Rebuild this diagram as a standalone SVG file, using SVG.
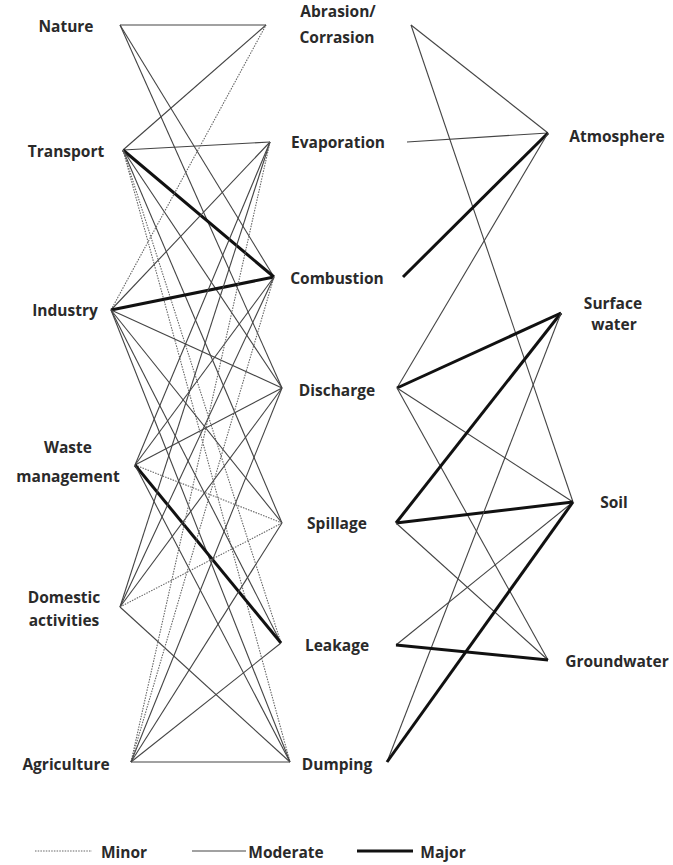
<svg xmlns="http://www.w3.org/2000/svg" width="673" height="865" viewBox="0 0 673 865">
<style>
text{font-family:"Open Sans","DejaVu Sans",sans-serif;font-size:15.5px;font-weight:700;fill:#2a2a2a;text-anchor:middle}
.mod{stroke:#444;stroke-width:1.1;fill:none}
.min{stroke:#666;stroke-width:1.1;stroke-dasharray:1.5 1.2;fill:none}
.maj{stroke:#111;stroke-width:3;fill:none}
</style>
<rect width="673" height="865" fill="#fff"/>
<g id="connectors">
<line class="mod" x1="120" y1="25" x2="266" y2="25"/>
<line class="mod" x1="120" y1="25" x2="274" y2="277"/>
<line class="mod" x1="120" y1="25" x2="282" y2="388"/>
<line class="mod" x1="123" y1="150" x2="266" y2="25"/>
<line class="mod" x1="123" y1="150" x2="270" y2="142"/>
<line class="maj" x1="123" y1="150" x2="274" y2="277"/>
<line class="mod" x1="123" y1="150" x2="282" y2="388"/>
<line class="mod" x1="123" y1="150" x2="282" y2="523"/>
<line class="min" x1="123" y1="150" x2="281" y2="643"/>
<line class="min" x1="123" y1="150" x2="290" y2="762"/>
<line class="min" x1="111" y1="310" x2="266" y2="25"/>
<line class="mod" x1="111" y1="310" x2="270" y2="142"/>
<line class="maj" x1="111" y1="310" x2="274" y2="277"/>
<line class="mod" x1="111" y1="310" x2="282" y2="388"/>
<line class="mod" x1="111" y1="310" x2="282" y2="523"/>
<line class="mod" x1="111" y1="310" x2="281" y2="643"/>
<line class="mod" x1="111" y1="310" x2="290" y2="762"/>
<line class="mod" x1="135" y1="465" x2="270" y2="142"/>
<line class="mod" x1="135" y1="465" x2="274" y2="277"/>
<line class="mod" x1="135" y1="465" x2="282" y2="388"/>
<line class="min" x1="135" y1="465" x2="282" y2="523"/>
<line class="maj" x1="135" y1="465" x2="281" y2="643"/>
<line class="mod" x1="135" y1="465" x2="290" y2="762"/>
<line class="mod" x1="120" y1="607" x2="270" y2="142"/>
<line class="mod" x1="120" y1="607" x2="274" y2="277"/>
<line class="mod" x1="120" y1="607" x2="282" y2="388"/>
<line class="min" x1="120" y1="607" x2="282" y2="523"/>
<line class="mod" x1="120" y1="607" x2="290" y2="762"/>
<line class="min" x1="131" y1="762" x2="270" y2="142"/>
<line class="min" x1="131" y1="762" x2="274" y2="277"/>
<line class="mod" x1="131" y1="762" x2="282" y2="388"/>
<line class="mod" x1="131" y1="762" x2="282" y2="523"/>
<line class="mod" x1="131" y1="762" x2="281" y2="643"/>
<line class="mod" x1="131" y1="762" x2="290" y2="762"/>
<line class="mod" x1="411" y1="25" x2="548" y2="133"/>
<line class="mod" x1="411" y1="25" x2="573" y2="502"/>
<line class="mod" x1="407" y1="142" x2="548" y2="133"/>
<line class="maj" x1="403" y1="277" x2="548" y2="133"/>
<line class="mod" x1="397" y1="388" x2="548" y2="133"/>
<line class="maj" x1="397" y1="388" x2="561" y2="313"/>
<line class="mod" x1="397" y1="388" x2="573" y2="502"/>
<line class="mod" x1="397" y1="388" x2="548" y2="660"/>
<line class="maj" x1="396" y1="523" x2="561" y2="313"/>
<line class="maj" x1="396" y1="523" x2="573" y2="502"/>
<line class="mod" x1="396" y1="523" x2="548" y2="660"/>
<line class="mod" x1="387" y1="762" x2="561" y2="313"/>
<line class="mod" x1="396" y1="645" x2="573" y2="502"/>
<line class="maj" x1="396" y1="645" x2="548" y2="660"/>
<line class="maj" x1="387" y1="762" x2="573" y2="502"/>
</g>
<g id="nature"><text x="66" y="32">Nature</text></g>
<g id="transport"><text x="66" y="157">Transport</text></g>
<g id="industry"><text x="65" y="316">Industry</text></g>
<g id="waste-management"><text x="68" y="453">Waste</text><text x="68" y="482">management</text></g>
<g id="domestic-activities"><text x="64" y="603">Domestic</text><text x="64" y="626">activities</text></g>
<g id="agriculture"><text x="66" y="770">Agriculture</text></g>
<g id="abrasion"><text x="338" y="17">Abrasion/</text><text x="337" y="43">Corrasion</text></g>
<g id="evaporation"><text x="338" y="148">Evaporation</text></g>
<g id="combustion"><text x="337" y="284">Combustion</text></g>
<g id="discharge"><text x="337" y="396">Discharge</text></g>
<g id="spillage"><text x="337" y="529">Spillage</text></g>
<g id="leakage"><text x="337" y="651">Leakage</text></g>
<g id="dumping"><text x="337" y="770">Dumping</text></g>
<g id="atmosphere"><text x="617" y="142">Atmosphere</text></g>
<g id="surface-water"><text x="613" y="309">Surface</text><text x="614" y="330">water</text></g>
<g id="soil"><text x="614" y="508">Soil</text></g>
<g id="groundwater"><text x="617" y="667">Groundwater</text></g>
<g id="legend">
<line class="min" x1="35" y1="851" x2="92" y2="851"/>
<text x="124" y="858">Minor</text>
<line class="mod" x1="192" y1="851" x2="246" y2="851"/>
<text x="286" y="858">Moderate</text>
<line class="maj" x1="357" y1="851" x2="413" y2="851"/>
<text x="443" y="858">Major</text>
</g>
</svg>
